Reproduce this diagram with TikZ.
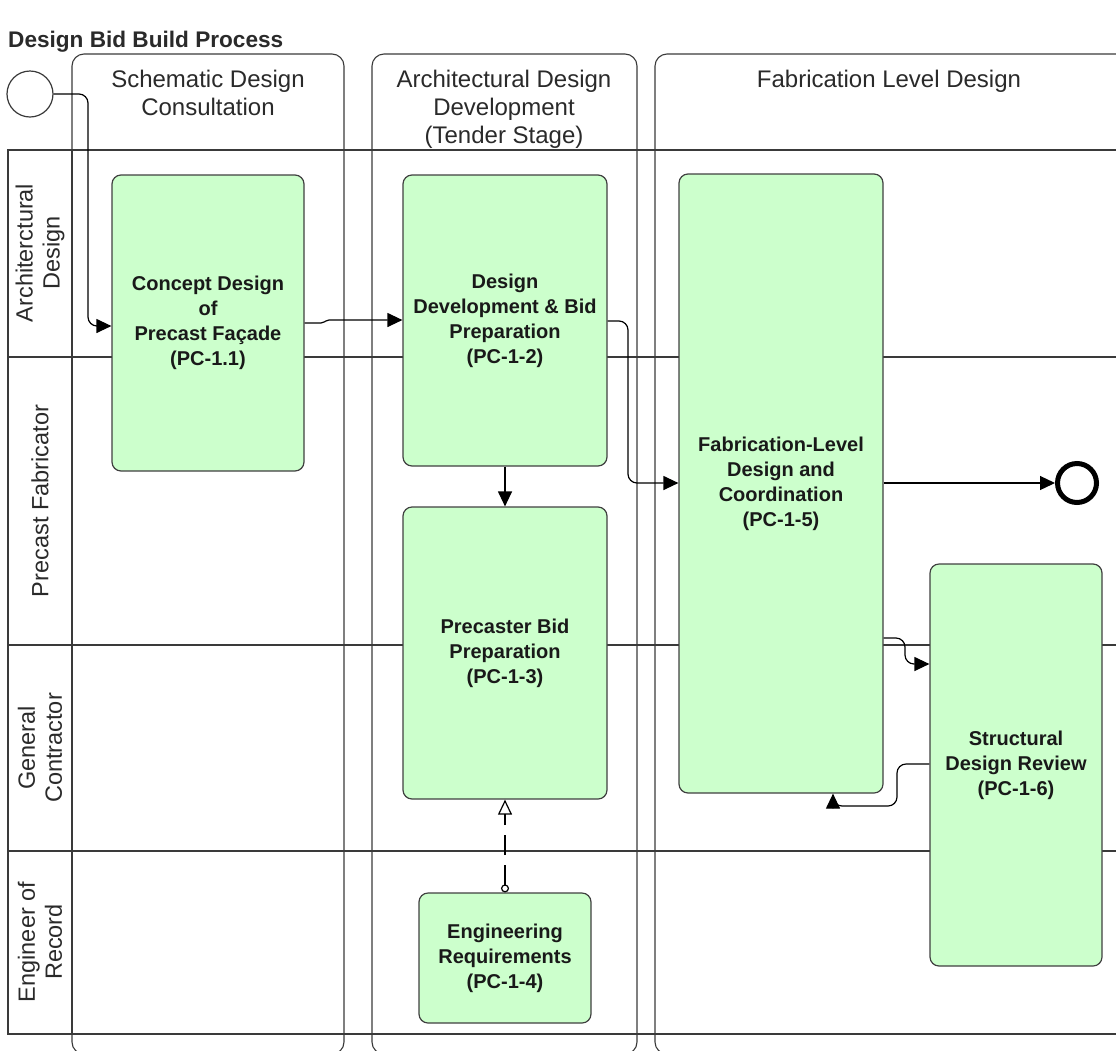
\documentclass[tikz,border=0pt]{standalone}
\usepackage{fontspec}
\setmainfont{Liberation Sans}
\usetikzlibrary{arrows.meta}
\definecolor{actfill}{HTML}{CCFFCC}
\definecolor{lineclr}{HTML}{3A3A3A}
\definecolor{txtclr}{HTML}{2A2A2A}
\begin{document}
\begin{tikzpicture}[x=1pt,y=-1pt,
  lane/.style={draw=lineclr, line width=1.4pt},
  phase/.style={draw=lineclr, line width=1.1pt, rounded corners=12pt, inner sep=0pt, outer sep=0pt},
  act/.style={draw=black!75, fill=actfill, line width=1.2pt, rounded corners=9pt, align=center,
    font=\fontsize{20}{25}\selectfont\bfseries, text=black!90, inner sep=0pt},
  hdr/.style={align=center, font=\fontsize{24}{28}\selectfont, text=txtclr, inner sep=0pt},
  lanelbl/.style={rotate=90, align=center, font=\fontsize{23.5}{27}\selectfont, text=txtclr, inner sep=0pt},
  flow/.style={draw=black, line width=1.2pt, rounded corners=9pt, -{Triangle[length=15pt,width=14pt]}},
  assoc/.style={draw=black, line width=1.2pt, dash pattern=on 20pt off 10pt,
    {Circle[open,length=8pt,width=8pt]}-{Triangle[open,length=15pt,width=14pt]}},
]
\useasboundingbox (0,0) rectangle (1116,1050);
\clip (0,0) rectangle (1116,1050);

% title
\node[anchor=base west, font=\fontsize{22.6}{27}\selectfont\bfseries, inner sep=0pt, text=txtclr] (title) at (8,47) {Design Bid Build Process};

% lanes
\draw[lane] (1130,150) -- (8,150) -- (8,1034) -- (1130,1034);
\draw[lane] (8,357) -- (1130,357);
\draw[lane] (8,645) -- (1130,645);
\draw[lane] (8,851) -- (1130,851);
\draw[lane] (72,150) -- (72,1034);

\node[lanelbl] (l1) at (40,253) {Architerctural\\Design};
\node[lanelbl] (l2) at (40,501) {Precast Fabricator};
\node[lanelbl] (l3) at (40,748) {General\\Contractor};
\node[lanelbl] (l4) at (40,942) {Engineer of\\Record};

% phases
\node[phase, minimum width=272pt, minimum height=1000pt, anchor=north west] (ph1) at (72,54) {};
\node[phase, minimum width=265pt, minimum height=1000pt, anchor=north west] (ph2) at (372,54) {};
\node[phase, minimum width=480pt, minimum height=1000pt, anchor=north west] (ph3) at (655,54) {};

\node[hdr, anchor=base] (h1) at (208,115) {Schematic Design\\Consultation};
\node[hdr, anchor=base] (h2) at (504,143) {Architectural Design\\Development\\(Tender Stage)};
\node[hdr, anchor=base] (h3) at (889,87) {Fabrication Level Design};

% activities
\node[act, minimum width=192pt, minimum height=296pt] (p11) at (208,323) {Concept Design\\of\\Precast Façade\\(PC-1.1)};
\node[act, minimum width=204pt, minimum height=291pt] (p12) at (505,320.5) {Design\\Development \& Bid\\Preparation\\(PC-1-2)};
\node[act, minimum width=204pt, minimum height=292pt] (p13) at (505,653) {Precaster Bid\\Preparation\\(PC-1-3)};
\node[act, minimum width=172pt, minimum height=130pt] (p14) at (505,958) {Engineering\\Requirements\\(PC-1-4)};
\node[act, minimum width=204pt, minimum height=619pt] (p15) at (781,483.5) {Fabrication-Level\\Design and\\Coordination\\(PC-1-5)};
\node[act, minimum width=172pt, minimum height=402pt] (p16) at (1016,765) {Structural\\Design Review\\(PC-1-6)};

% events
\node[circle, draw=lineclr, line width=1.2pt, minimum size=46pt, inner sep=0pt, fill=white] (start) at (30,94) {};
\node[circle, draw=black, line width=5pt, minimum size=39pt, inner sep=0pt] (end) at (1077,483) {};

% connectors
\draw[flow] (start.east) -- (88,94) -- (88,326) -- (p11.west |- 0,326);
\draw[flow, rounded corners=2pt] (p11.east |- 0,323) -- (323,323) -- (327,320) -- (p12.west |- 0,320);
\draw[flow] (p12.east |- 0,321) -- (628,321) -- (628,483) -- (p15.west |- 0,483);
\draw[flow] (p12.south) -- (p13.north);
\draw[assoc] (p14.north) -- (p13.south);
\draw[flow] (p15.east |- end) -- (end.west);
\draw[flow] (p15.east |- 0,638) -- (905,638) -- (905,664) -- (p16.west |- 0,664);
\draw[flow] (p16.west |- 0,764) -- (897,764) -- (897,806) -- (833,806) -- (p15.south -| 833,0);
\end{tikzpicture}
\end{document}
